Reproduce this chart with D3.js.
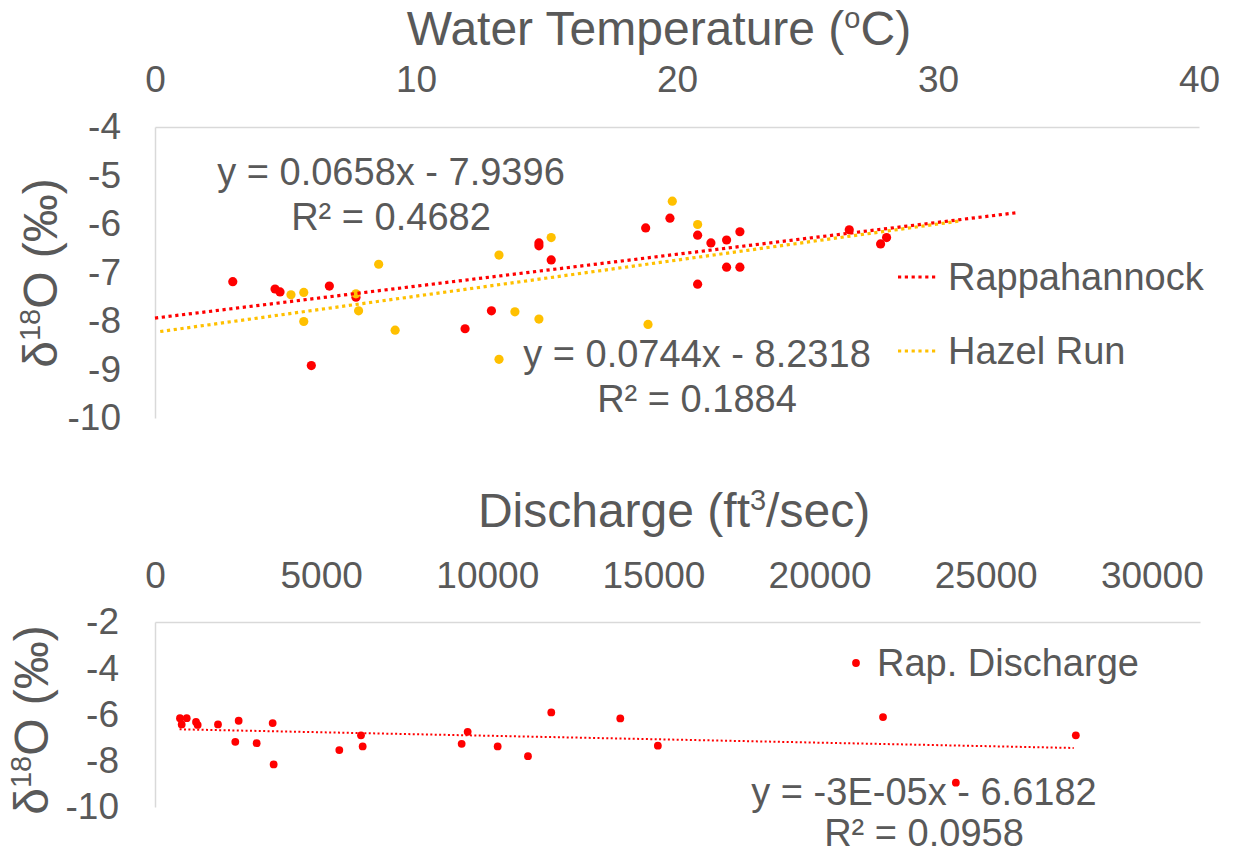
<!DOCTYPE html>
<html>
<head>
<meta charset="utf-8">
<script src="https://cdn.jsdelivr.net/npm/d3@7"></script>
<style>
  html, body { margin: 0; padding: 0; background: #ffffff; }
  svg { display: block; }
  text { font-family: "Liberation Sans", Arial, sans-serif; fill: #595959; }
</style>
</head>
<body>
<svg id="chart" width="1233" height="855"></svg>
<script>
// ---- Water temperature vs. δ18O ----
const rapTemp  = [2.98, 4.60, 4.79, 6.68, 7.70, 5.99, 11.88, 12.89, 14.71, 14.71, 15.18, 18.80,
                  19.73, 20.79, 21.30, 21.90, 22.41, 21.90, 22.41, 20.79, 26.60, 27.80, 28.03];
const rapD18O  = [-7.19, -7.34, -7.40, -7.28, -7.51, -8.92, -8.16, -7.79, -6.39, -6.45, -6.74, -6.08,
                  -5.88, -6.23, -6.39, -6.33, -6.16, -6.89, -6.89, -7.24, -6.12, -6.41, -6.28];
const hazelTemp = [5.21, 5.70, 5.70, 7.70, 7.80, 8.57, 9.20, 13.18, 13.79, 14.71, 13.18, 15.18,
                   18.89, 19.82, 20.79];
const hazelD18O = [-7.46, -7.41, -8.01, -7.44, -7.79, -6.83, -8.19, -6.64, -7.81, -7.96, -8.79, -6.28,
                   -8.07, -5.53, -6.01];

// linear trendlines: slope, intercept, R², drawn x-extent
const tempSeries   = ["Rappahannock", "Hazel Run"];
const tempColors   = ["#FF0000", "#FFC000"];
const tempSlope    = [0.0658, 0.0744];
const tempIntercept = [-7.9396, -8.2318];
const tempR2       = [0.4682, 0.1884];
const tempFitFrom  = [0, 0.2];
const tempFitTo    = [33.0, 30.8];

const tempTicks  = [0, 10, 20, 30, 40];
const topYTicks  = [-4, -5, -6, -7, -8, -9, -10];

// ---- Discharge vs. δ18O ----
const dischargeQ    = [752, 954, 803, 1234, 1284, 1896, 2518, 2417, 3060, 3541, 3571, 5547, 6200,
                       6250, 9229, 9410, 10313, 11225, 11926, 14003, 15134, 21910, 27713, 24102];
const dischargeD18O = [-6.16, -6.16, -6.43, -6.32, -6.45, -6.43, -6.27, -7.18, -7.24, -6.37, -8.16,
                       -7.54, -6.90, -7.38, -7.27, -6.75, -7.38, -7.80, -5.91, -6.17, -7.35, -6.11,
                       -6.90, -8.95];
const qSeries    = "Rap. Discharge";
const qSlope     = -3e-5;
const qIntercept = -6.6182;
const qR2        = 0.0958;
const qFitFrom   = 740;
const qFitTo     = 27650;

const qTicks        = [0, 5000, 10000, 15000, 20000, 25000, 30000];
const bottomYTicks  = [-2, -4, -6, -8, -10];

// ---- helpers ----
function excelNum(v, digits) {
  if (v !== 0 && Math.abs(v) < 1e-3) {
    const [m, e] = v.toExponential(0).split("e");
    const ev = parseInt(e, 10);
    return m + "E" + (ev < 0 ? "-" : "+") + String(Math.abs(ev)).padStart(2, "0");
  }
  return v.toFixed(digits);
}
function eqText(slope, intercept) {
  const sign = intercept < 0 ? " - " : " + ";
  return "y = " + excelNum(slope, 4) + "x" + sign + Math.abs(intercept).toFixed(4);
}

const svg = d3.select("#chart");
const TEXT = "#595959";
const AXIS = "#D9D9D9";
const tickFont = 37, labelFont = 38, titleFont = 48;

function styleAxis(g) {
  g.select(".domain").attr("stroke", AXIS).attr("stroke-width", 1.5);
  g.selectAll(".tick line").remove();
  g.selectAll(".tick text")
    .attr("fill", TEXT)
    .style("font-family", '"Liberation Sans", Arial, sans-serif')
    .style("font-size", tickFont + "px");
}

function deltaTitle(x, y) {
  const t = svg.append("text")
    .attr("transform", `translate(${x},${y}) rotate(-90)`)
    .attr("text-anchor", "middle")
    .style("font-size", titleFont + "px");
  t.append("tspan").text("δ");
  t.append("tspan").attr("dy", -17).style("font-size", "29px").text("18");
  t.append("tspan").attr("dy", 17).text("O (‰)");
}

// ================= top panel =================
const xT = d3.scaleLinear().domain([0, 40]).range([155, 1199]);
const yT = d3.scaleLinear().domain([-10, -4]).range([418, 127]);

svg.append("g").attr("transform", `translate(0,${yT(-4)})`)
  .call(d3.axisTop(xT).tickValues(tempTicks).tickSize(0).tickPadding(35).tickFormat(d3.format("d")))
  .call(styleAxis);
svg.append("g").attr("transform", `translate(${xT(0)},0)`)
  .call(d3.axisLeft(yT).tickValues(topYTicks).tickSize(0).tickPadding(34).tickFormat(d3.format("d")))
  .call(g => { styleAxis(g); g.selectAll(".tick text").text(d => String(d)); });

// title
{
  const t = svg.append("text").attr("x", 659).attr("y", 45)
    .attr("text-anchor", "middle").style("font-size", titleFont + "px");
  t.append("tspan").text("Water Temperature (");
  t.append("tspan").attr("dy", -17).style("font-size", "29px").text("o");
  t.append("tspan").attr("dy", 17).text("C)");
}
deltaTitle(57, 273);

const tempData = [
  rapTemp.map((x, i) => ({ x, y: rapD18O[i] })),
  hazelTemp.map((x, i) => ({ x, y: hazelD18O[i] }))
];

tempData.forEach((pts, s) => {
  svg.append("g").selectAll("circle").data(pts).join("circle")
    .attr("cx", d => xT(d.x)).attr("cy", d => yT(d.y)).attr("r", 4.6)
    .attr("fill", tempColors[s]);
});

tempSeries.forEach((name, s) => {
  const f = x => tempSlope[s] * x + tempIntercept[s];
  svg.append("line")
    .attr("x1", xT(tempFitFrom[s])).attr("y1", yT(f(tempFitFrom[s])))
    .attr("x2", xT(tempFitTo[s])).attr("y2", yT(f(tempFitTo[s])))
    .attr("stroke", tempColors[s]).attr("stroke-width", 3.2)
    .attr("stroke-dasharray", "3.2 3.6");
});

// legend
tempSeries.forEach((name, s) => {
  const ly = 277 + s * 74;
  svg.append("line").attr("x1", 898).attr("x2", 938).attr("y1", ly).attr("y2", ly)
    .attr("stroke", tempColors[s]).attr("stroke-width", 3.2).attr("stroke-dasharray", "3.2 3.6");
  svg.append("text").attr("x", 948).attr("y", ly + 13)
    .style("font-size", labelFont + "px").text(name);
});

// trendline equations
const eqPos = [[391, 185], [697, 367]];
tempSeries.forEach((name, s) => {
  const t = svg.append("text").attr("text-anchor", "middle").style("font-size", labelFont + "px");
  t.append("tspan").attr("x", eqPos[s][0]).attr("y", eqPos[s][1])
    .text(eqText(tempSlope[s], tempIntercept[s]));
  t.append("tspan").attr("x", eqPos[s][0]).attr("y", eqPos[s][1] + 45)
    .text("R² = " + tempR2[s].toFixed(4));
});

// ================= bottom panel =================
const xQ = d3.scaleLinear().domain([0, 31450]).range([155, 1200]);
const yQ = d3.scaleLinear().domain([-10, -2]).range([807, 622]);

svg.append("g").attr("transform", `translate(0,${yQ(-2)})`)
  .call(d3.axisTop(xQ).tickValues(qTicks).tickSize(0).tickPadding(34).tickFormat(d3.format("d")))
  .call(styleAxis);
svg.append("g").attr("transform", `translate(${xQ(0)},0)`)
  .call(d3.axisLeft(yQ).tickValues(bottomYTicks).tickSize(0).tickPadding(36).tickFormat(d3.format("d")))
  .call(g => { styleAxis(g); g.selectAll(".tick text").text(d => String(d)); });

{
  const t = svg.append("text").attr("x", 674).attr("y", 527)
    .attr("text-anchor", "middle").style("font-size", titleFont + "px");
  t.append("tspan").text("Discharge (ft");
  t.append("tspan").attr("dy", -17).style("font-size", "29px").text("3");
  t.append("tspan").attr("dy", 17).text("/sec)");
}
deltaTitle(48, 720);

svg.append("g").selectAll("circle")
  .data(dischargeQ.map((x, i) => ({ x, y: dischargeD18O[i] })))
  .join("circle")
  .attr("cx", d => xQ(d.x)).attr("cy", d => yQ(d.y)).attr("r", 3.9)
  .attr("fill", "#FF0000");

{
  const f = x => qSlope * x + qIntercept;
  svg.append("line")
    .attr("x1", xQ(qFitFrom)).attr("y1", yQ(f(qFitFrom)))
    .attr("x2", xQ(qFitTo)).attr("y2", yQ(f(qFitTo)))
    .attr("stroke", "#FF0000").attr("stroke-width", 2)
    .attr("stroke-dasharray", "2 2.4");
}

svg.append("circle").attr("cx", 856).attr("cy", 663).attr("r", 3.9).attr("fill", "#FF0000");
svg.append("text").attr("x", 877).attr("y", 676).style("font-size", labelFont + "px").text(qSeries);

{
  const t = svg.append("text").attr("text-anchor", "middle").style("font-size", labelFont + "px");
  t.append("tspan").attr("x", 924).attr("y", 805).text(eqText(qSlope, qIntercept));
  t.append("tspan").attr("x", 924).attr("y", 846).text("R² = " + qR2.toFixed(4));
}
</script>
</body>
</html>
